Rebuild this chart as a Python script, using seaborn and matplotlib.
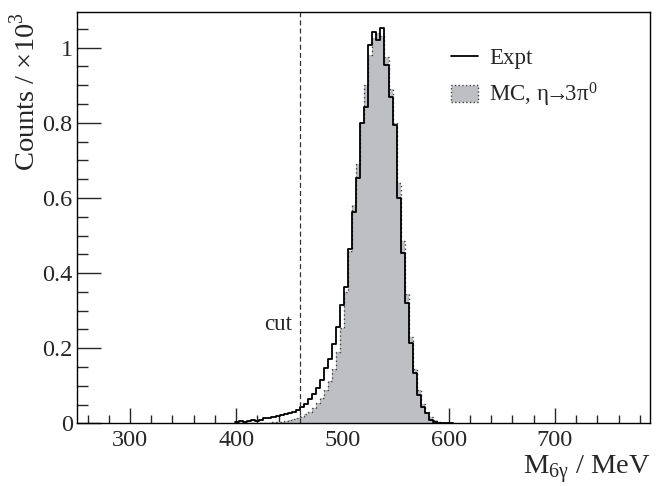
import numpy as np
import pandas as pd
import matplotlib
matplotlib.use('Agg')
import matplotlib.pyplot as plt
import seaborn as sns
from matplotlib.lines import Line2D
from matplotlib.patches import Patch
from matplotlib.ticker import MultipleLocator, FuncFormatter

sns.set_style('ticks')
plt.rcParams['font.family'] = ['Liberation Serif', 'DejaVu Serif']
plt.rcParams['mathtext.fontset'] = 'custom'
plt.rcParams['mathtext.rm'] = 'Liberation Serif'

# histogram binning (MeV)
bin_start = 399.0
bin_width = 3.8

# counts / 10^3
expt = [0.003, 0.005, 0.004, 0.006, 0.008, 0.007, 0.010, 0.013, 0.015, 0.016,
        0.019, 0.021, 0.024, 0.027, 0.031, 0.036, 0.044, 0.052, 0.065, 0.078,
        0.095, 0.115, 0.148, 0.172, 0.212, 0.257, 0.315, 0.364, 0.463, 0.563,
        0.653, 0.799, 0.843, 1.007, 1.043, 1.020, 1.052, 0.954, 0.870, 0.794,
        0.599, 0.453, 0.319, 0.213, 0.133, 0.075, 0.044, 0.027, 0.008, 0.004,
        0.002, 0.001, 0.000, 0.000]
mc = [0.000, 0.000, 0.000, 0.000, 0.001, 0.001, 0.001, 0.002, 0.002, 0.003,
      0.003, 0.004, 0.006, 0.008, 0.011, 0.014, 0.018, 0.024, 0.031, 0.041,
      0.053, 0.068, 0.088, 0.113, 0.145, 0.190, 0.255, 0.350, 0.460, 0.580,
      0.690, 0.800, 0.900, 0.980, 1.025, 1.040, 1.030, 0.975, 0.890, 0.800,
      0.640, 0.485, 0.345, 0.230, 0.145, 0.088, 0.052, 0.030, 0.016, 0.008,
      0.004, 0.002, 0.001, 0.000]
cut_value = 460

edges = [bin_start + bin_width * i for i in range(len(expt) + 1)]
df = pd.DataFrame({'mass': [e + bin_width / 2 for e in edges[:-1]],
                   'expt': expt, 'mc': mc})

fig = plt.figure(figsize=(6.63, 4.86), dpi=100)
ax = fig.add_axes([0.116, 0.129, 0.865, 0.847])

grey = '#bebfc3'
# MC: filled histogram + dotted outline
sns.histplot(data=df, x='mass', weights='mc', bins=edges, element='step',
             fill=True, color=grey, alpha=1, linewidth=0, ax=ax)
sns.histplot(data=df, x='mass', weights='mc', bins=edges, element='step',
             fill=False, color='#444444', linestyle=(0, (1, 2)), linewidth=1.0, ax=ax)
# experimental data
sns.histplot(data=df, x='mass', weights='expt', bins=edges, element='step',
             fill=False, color='black', linewidth=1.3, ax=ax)

ax.axvline(cut_value, color='#333333', linestyle=(0, (4, 2.5)), linewidth=0.9)
ax.text(cut_value - 7, 0.262, 'cut', ha='right', va='center', fontsize=16.5)

ax.set_xlim(250, 790)
ax.set_ylim(0, 1.096)
ax.xaxis.set_major_locator(MultipleLocator(100))
ax.xaxis.set_minor_locator(MultipleLocator(20))
ax.yaxis.set_major_locator(MultipleLocator(0.2))
ax.yaxis.set_minor_locator(MultipleLocator(0.05))
ax.yaxis.set_major_formatter(FuncFormatter(lambda v, p: f'{v:g}'))
ax.tick_params(which='both', direction='in', top=False, right=False,
               labelsize=17.5, width=1, pad=3)
ax.tick_params(axis='x', which='both', pad=5)
ax.tick_params(axis='x', which='major', length=11)
ax.tick_params(axis='x', which='minor', length=6)
ax.tick_params(axis='y', which='major', length=17)
ax.tick_params(axis='y', which='minor', length=8)
for s in ax.spines.values():
    s.set_linewidth(1)
    s.set_color('black')

ax.set_xlabel('M$_{\\mathregular{6γ}}$ / MeV', loc='right', fontsize=20.5, labelpad=1.5)
ax.set_ylabel('Counts / ×10$^{\\mathregular{3}}$', loc='top', fontsize=20.5, labelpad=1)

handles = [Line2D([], [], color='black', linewidth=1.3),
           Patch(facecolor=grey, edgecolor='#444444', linestyle=':', linewidth=1)]
labels = ['Expt', 'MC, $\\mathregular{η\\!\\!{\\rightarrow}\\!\\!3π^{0}}$']
ax.legend(handles, labels, loc='upper left', bbox_to_anchor=(0.653, 0.911),
          frameon=False, fontsize=16.5, borderpad=0, borderaxespad=0,
          handlelength=1.16, handletextpad=0.5, labelspacing=0.5)

fig.savefig('out.png', dpi=100)
